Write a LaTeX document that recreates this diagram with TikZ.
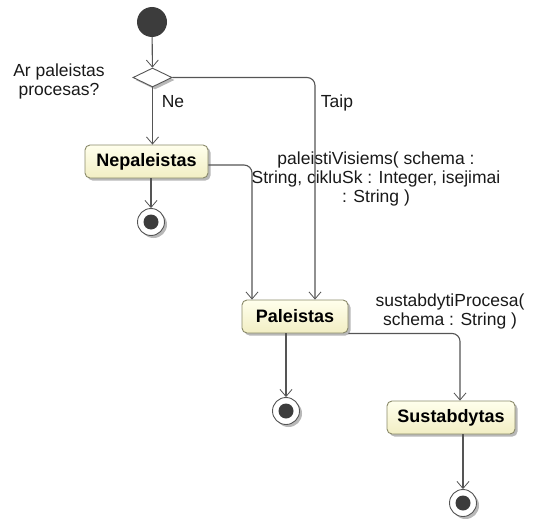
\documentclass[tikz,border=0pt]{standalone}
\usepackage{fontspec}
\setmainfont{Liberation Sans}
\usetikzlibrary{arrows.meta,shapes.geometric,shadows}

\definecolor{linegray}{HTML}{555555}
\definecolor{boxedge}{HTML}{8A8A6A}
\definecolor{boxtop}{HTML}{FFFFEC}
\definecolor{boxbot}{HTML}{F2EEC4}
\definecolor{dotfill}{HTML}{3C3C3C}

\begin{document}
\begin{tikzpicture}[x=1pt,y=-1pt,
  softshadow/.style={drop shadow={shadow xshift=2.5pt,shadow yshift=-2.5pt,fill=black,opacity=0.28}},
  action/.style={draw=boxedge, line width=0.9pt, rounded corners=5pt,
    top color=boxtop, bottom color=boxbot, minimum height=33pt, inner sep=0pt,
    font=\bfseries\fontsize{18}{20}\selectfont, softshadow},
  initnode/.style={circle, fill=dotfill, minimum size=30pt, inner sep=0pt},
  finalnode/.style={circle, draw=linegray, line width=0.9pt, fill=white,
    minimum size=27pt, inner sep=0pt, softshadow,
    path picture={\fill[dotfill] (path picture bounding box.center) circle (7.5pt);}},
  decision/.style={diamond, draw=linegray, line width=0.9pt, fill=white,
    minimum width=39pt, minimum height=19pt, inner sep=0pt, softshadow},
  flow/.style={draw=linegray, line width=1.1pt, rounded corners=8pt,
    -{Straight Barb[length=7pt,width=12pt,line width=0.8pt]}},
  lbl/.style={font=\fontsize{17.5}{19}\selectfont, align=center, inner sep=0pt, text=black!90}]

\useasboundingbox (0,0) rectangle (538,519);

% nodes
\node[initnode] (start) at (152,22) {};
\node[decision] (dec) at (152.5,77.5) {};
\node[action, minimum width=123pt] (nep) at (146.5,161.5) {Nepaleistas};
\node[finalnode] (fnep) at (151,222) {};
\node[action, minimum width=106pt] (pal) at (295,316.5) {Paleistas};
\node[finalnode] (fpal) at (286,411) {};
\node[action, minimum width=128pt] (sus) at (451,417.5) {Sustabdytas};
\node[finalnode] (fsus) at (463,503) {};

% labels
\node[lbl] (q) at (59,81.5) {Ar paleistas\\procesas?};
\node[lbl] (ne) at (173,102) {Ne};
\node[lbl] (taip) at (337,103) {Taip};
\node[lbl] (g1) at (376,179) {paleistiVisiems( schema :\\String, cikluSk : Integer, isejimai\\: String )};
\node[lbl] (g2) at (450,311) {sustabdytiProcesa(\\schema : String )};

% control flows
\draw[flow] (start) -- (dec);
\draw[flow] (dec.south) -- (dec.south |- nep.north);
\draw[flow] (dec.east) -| ([xshift=20pt]pal.north);
\draw[flow] ([yshift=-3.5pt]nep.east) -| ([xshift=-43pt]pal.north);
\draw[flow] (fnep |- nep.south) -- (fnep);
\draw[flow] (fpal |- pal.south) -- (fpal);
\draw[flow] (pal.south east) -| ([xshift=9pt]sus.north);
\draw[flow] (fsus |- sus.south) -- (fsus);
\end{tikzpicture}
\end{document}
